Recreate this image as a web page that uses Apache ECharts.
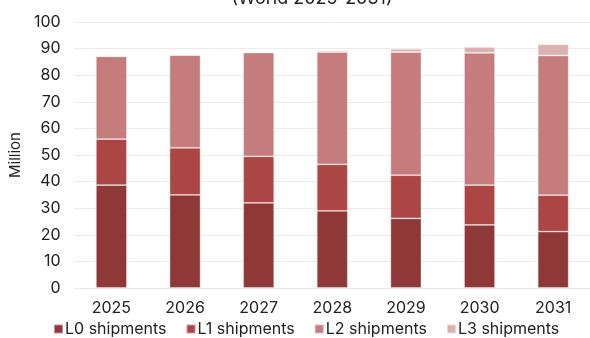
<!DOCTYPE html>
<html>
<head>
<meta charset="utf-8">
<script src="https://cdn.jsdelivr.net/npm/echarts@6/dist/echarts.min.js"></script>
<style>
html,body{margin:0;padding:0;background:#fff;}
#c{width:590px;height:338px;}
</style>
</head>
<body>
<div id="c"></div>
<script>
const categories = ['2025','2026','2027','2028','2029','2030','2031'];
const l0 = [38.7, 35.0, 32.0, 29.0, 26.2, 23.7, 21.2];
const l1 = [17.3, 17.7, 17.5, 17.5, 16.2, 15.0, 13.7];
const l2 = [31.1, 34.9, 39.0, 42.2, 46.3, 49.7, 52.5];
const l3 = [0.1, 0.1, 0.2, 0.6, 1.2, 2.2, 4.2];
const seriesNames = ['L0 shipments','L1 shipments','L2 shipments','L3 shipments'];
const colors = ['#8f3838','#ab4644','#c47c7c','#dbb1b1'];
const titleText = '(World 2025-2031)';
const yAxisName = 'Million';

const FONT = 'Inter, "Liberation Sans", sans-serif';
const chart = echarts.init(document.getElementById('c'), null, {renderer:'canvas'});
const dataSets = [l0, l1, l2, l3];
chart.setOption({
  animation: false,
  textStyle: {fontFamily: FONT},
  title: {
    text: titleText,
    left: 307, textAlign: 'center', top: -15,
    textStyle: {fontFamily: FONT, fontSize: 18, fontWeight: 'normal', color: '#222'}
  },
  grid: {left: 74, top: 22, width: 532, bottom: 50, containLabel: false},
  legend: {
    data: seriesNames,
    left: 48, top: 316,
    itemWidth: 9, itemHeight: 9, itemGap: 19, icon: 'rect',
    textStyle: {fontFamily: FONT, fontSize: 16, color: '#222', padding: [0,0,0,-3]}
  },
  xAxis: {
    type: 'category',
    data: categories,
    axisTick: {show: false},
    axisLine: {lineStyle: {color: '#e8e8e8', width: 1}},
    axisLabel: {fontFamily: FONT, fontSize: 16, color: '#222', margin: 12}
  },
  yAxis: {
    type: 'value',
    min: 0, max: 100, interval: 10,
    name: yAxisName,
    nameLocation: 'middle',
    nameRotate: 90,
    nameGap: 44,
    nameTextStyle: {fontFamily: FONT, fontSize: 15, color: '#222'},
    axisLine: {show: false},
    axisTick: {show: false},
    splitLine: {lineStyle: {color: '#ebebeb', width: 1}},
    axisLabel: {fontFamily: FONT, fontSize: 16, color: '#222', margin: 14}
  },
  series: dataSets.map((d, i) => ({
    name: seriesNames[i],
    type: 'bar',
    stack: 'total',
    barWidth: 31,
    data: d,
    itemStyle: {color: colors[i], borderColor: 'rgba(255,255,255,0.45)', borderWidth: 0.8}
  }))
});
</script>
</body>
</html>
